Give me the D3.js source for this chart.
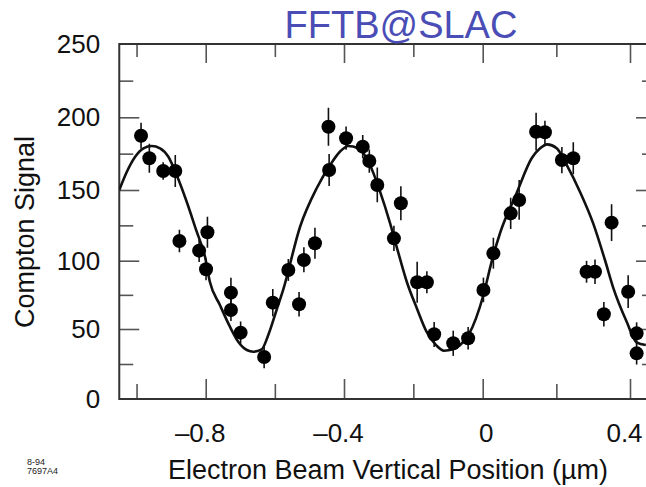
<!DOCTYPE html>
<html>
<head>
<meta charset="utf-8">
<script src="https://cdn.jsdelivr.net/npm/d3@7"></script>
<style>
  body { margin: 0; background: #fff; }
  svg { display: block; font-family: "Liberation Sans", Arial, Helvetica, sans-serif; }
</style>
</head>
<body>
<div id="chart"></div>
<script>
// measured points: beam position (um), Compton signal, error bar half-length
const posX = [-0.987, -0.963, -0.923, -0.888, -0.876, -0.819, -0.799, -0.795, -0.727, -0.727,
              -0.699, -0.631, -0.606, -0.561, -0.530, -0.516, -0.484, -0.445, -0.443, -0.394,
              -0.346, -0.327, -0.304, -0.256, -0.236, -0.189, -0.161, -0.140, -0.085, -0.042,
              0.002, 0.029, 0.076, 0.099, 0.145, 0.169, 0.215, 0.246, 0.282, 0.305,
              0.329, 0.350, 0.395, 0.418, 0.418];
const signal = [187.3, 171.8, 163.1, 163.1, 113.9, 107.1, 93.7, 120.1, 76.6, 63.9,
                47.4, 30.0, 69.3, 93.2, 68.1, 100.5, 112.3, 193.5, 163.8, 185.6,
                179.8, 169.9, 153.4, 115.8, 140.6, 84.2, 84.2, 46.2, 39.8, 43.4,
                78.6, 105.2, 133.5, 142.9, 190.1, 189.7, 170.6, 171.8, 91.9, 91.9,
                60.8, 126.9, 77.3, 46.9, 32.6];
const errBar = [9, 10, 6, 11, 8, 8, 8, 11, 11, 8,
                8, 8, 10, 8, 9, 9, 11, 13, 11, 8,
                8, 8, 12, 9, 12, 15, 8, 9, 9, 8,
                9, 11, 11, 14, 13, 8, 9, 11, 8, 9,
                9, 13, 12, 8, 8];

// fitted curve
const fitX = [-1.050, -1.028, -1.004, -0.980, -0.956, -0.932, -0.908, -0.884, -0.855, -0.826,
              -0.802, -0.788, -0.759, -0.730, -0.706, -0.681, -0.662, -0.638, -0.619, -0.595,
              -0.576, -0.527, -0.479, -0.440, -0.412, -0.388, -0.359, -0.325, -0.296, -0.267,
              -0.244, -0.219, -0.190, -0.162, -0.133, -0.112, -0.085, -0.065, -0.041, 0.002,
              0.024, 0.047, 0.092, 0.133, 0.156, 0.175, 0.201, 0.228, 0.264, 0.300,
              0.332, 0.355, 0.391, 0.418, 0.443];
const fitY = [150, 162.6, 172.9, 178.7, 180.3, 178.7, 172.9, 160.3, 141.7, 120.5,
              102.8, 84.6, 67.6, 51.7, 40.9, 35.0, 33.8, 35.5, 45.7, 63.9,
              78.6, 124.0, 151.2, 167.2, 176.3, 180.3, 178.7, 167.2, 148.8, 126.4,
              106.2, 84.6, 65.2, 48.1, 38.1, 34.5, 35.5, 38.6, 45.7, 74.9,
              99.0, 119.4, 147.7, 171.8, 178.7, 181.4, 178.7, 167.2, 148.8, 126.4,
              100.5, 79.8, 55.3, 40.5, 38.6];

const xMajor = [-0.8, -0.4, 0, 0.4];
const xMinor = [-1.0, -0.6, -0.2, 0.2];
const yMajor = [0, 50, 100, 150, 200, 250];
const yMinor = [25, 75, 125, 175, 225];
const xExtent = [-1.05, 0.4706];

const W = 646, H = 487;

const svg = d3.select("#chart").append("svg")
    .attr("width", W)
    .attr("height", H);

// scanned figure: tick spacing is slightly uneven, so the scales follow the ticks
const x = d3.scaleLinear()
    .domain(xMajor)
    .range([205.7, 344, 482.7, 630]);
const y = d3.scaleLinear()
    .domain(yMajor)
    .range([399, 329, 260.7, 190, 117.3, 44]);

const plotL = x(xExtent[0]), plotR = x(xExtent[1]);
const plotT = y(250), plotB = y(0);

svg.append("defs").append("clipPath").attr("id", "plotclip")
  .append("rect")
    .attr("x", plotL).attr("y", plotT)
    .attr("width", plotR - plotL).attr("height", plotB - plotT);

const xFmt = d => d < 0 ? "\u2013" + Math.abs(d) : String(d);

function styleAxis(g) {
    g.select(".domain").remove();
    g.selectAll(".tick line").attr("stroke", "#555").attr("stroke-width", 1.6);
    g.selectAll(".tick text")
        .attr("fill", "#111")
        .style("font-size", "26px");
}

// bottom
svg.append("g")
    .attr("transform", "translate(0," + plotB + ")")
    .call(d3.axisBottom(x).tickValues(xMajor).tickSize(-20).tickPadding(25).tickFormat(xFmt))
    .call(styleAxis)
    .call(g => g.selectAll(".tick text").attr("dx", d => d === 0 ? 3 : -6));
svg.append("g")
    .attr("transform", "translate(0," + plotB + ")")
    .call(d3.axisBottom(x).tickValues(xMinor).tickSize(-15).tickFormat(""))
    .call(styleAxis);

// top
svg.append("g")
    .attr("transform", "translate(0," + plotT + ")")
    .call(d3.axisTop(x).tickValues(xMajor).tickSize(-19).tickFormat(""))
    .call(styleAxis);
svg.append("g")
    .attr("transform", "translate(0," + plotT + ")")
    .call(d3.axisTop(x).tickValues(xMinor).tickSize(-13).tickFormat(""))
    .call(styleAxis);

// left
svg.append("g")
    .attr("transform", "translate(" + plotL + ",0)")
    .call(d3.axisLeft(y).tickValues(yMajor.slice(1, -1)).tickSize(-20).tickFormat(""))
    .call(styleAxis);
svg.append("g")
    .attr("transform", "translate(" + plotL + ",0)")
    .call(d3.axisLeft(y).tickValues(yMajor).tickSize(0).tickPadding(19))
    .call(styleAxis);
svg.append("g")
    .attr("transform", "translate(" + plotL + ",0)")
    .call(d3.axisLeft(y).tickValues(yMinor).tickSize(-14).tickFormat(""))
    .call(styleAxis);

// right (mostly cut off by the page edge)
svg.append("g")
    .attr("transform", "translate(" + plotR + ",0)")
    .call(d3.axisRight(y).tickValues(yMajor.slice(1, -1)).tickSize(-20).tickFormat(""))
    .call(styleAxis);
svg.append("g")
    .attr("transform", "translate(" + plotR + ",0)")
    .call(d3.axisRight(y).tickValues(yMinor).tickSize(-14).tickFormat(""))
    .call(styleAxis);

// frame
svg.append("rect")
    .attr("x", plotL).attr("y", plotT)
    .attr("width", plotR - plotL).attr("height", plotB - plotT)
    .attr("fill", "none")
    .attr("stroke", "#333")
    .attr("stroke-width", 2);

const plot = svg.append("g").attr("clip-path", "url(#plotclip)");

// fit curve
const line = d3.line()
    .x(d => x(d[0]))
    .y(d => y(d[1]))
    .curve(d3.curveMonotoneX);

plot.append("path")
    .datum(d3.zip(fitX, fitY))
    .attr("d", line)
    .attr("fill", "none")
    .attr("stroke", "#111")
    .attr("stroke-width", 2.6);

const pts = posX.map((d, i) => ({ x: d, v: signal[i], e: errBar[i] }));

// error bars
plot.selectAll(".err")
    .data(pts)
    .enter().append("line")
    .attr("class", "err")
    .attr("x1", d => x(d.x)).attr("x2", d => x(d.x))
    .attr("y1", d => y(d.v - d.e)).attr("y2", d => y(d.v + d.e))
    .attr("stroke", "#111")
    .attr("stroke-width", 1.6);

// points
plot.selectAll(".dot")
    .data(pts)
    .enter().append("circle")
    .attr("class", "dot")
    .attr("cx", d => x(d.x))
    .attr("cy", d => y(d.v))
    .attr("r", 7)
    .attr("fill", "#000");

// titles
svg.append("text")
    .attr("x", 401)
    .attr("y", 38)
    .attr("text-anchor", "middle")
    .style("font-size", "38px")
    .attr("fill", "#4a4db5")
    .text("FFTB@SLAC");

svg.append("text")
    .attr("x", 388)
    .attr("y", 479)
    .attr("text-anchor", "middle")
    .style("font-size", "27px")
    .attr("fill", "#111")
    .text("Electron Beam Vertical Position (\u00b5m)");

svg.append("text")
    .attr("transform", "translate(34," + 232 + ") rotate(-90)")
    .attr("text-anchor", "middle")
    .style("font-size", "27px")
    .attr("fill", "#111")
    .text("Compton Signal");

// figure id in the corner
svg.append("text")
    .attr("x", 27).attr("y", 465)
    .style("font-size", "9px")
    .attr("fill", "#222")
    .text("8-94");
svg.append("text")
    .attr("x", 27).attr("y", 474)
    .style("font-size", "9px")
    .attr("fill", "#222")
    .text("7697A4");
</script>
</body>
</html>
